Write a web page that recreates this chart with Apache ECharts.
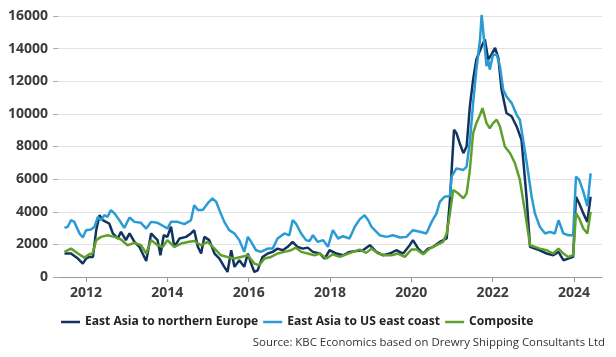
<!DOCTYPE html>
<html><head><meta charset="utf-8">
<script src="https://cdn.jsdelivr.net/npm/echarts@6/dist/echarts.min.js"></script>
<style>html,body{margin:0;padding:0;background:#fff}#c{width:616px;height:357px}</style>
</head><body><div id="c"></div>
<script>
// Years shown as axis labels
const yearTicks = [2012, 2014, 2016, 2018, 2020, 2022, 2024];
const seriesNames = ['East Asia to northern Europe', 'East Asia to US east coast', 'Composite'];

// East Asia to northern Europe (decimal year, USD)
const euX = [2011.47,2011.63,2011.8,2011.92,2012.0,2012.08,2012.17,2012.25,2012.33,2012.41,2012.49,2012.57,2012.66,2012.78,2012.86,2012.98,2013.07,2013.19,2013.31,2013.48,2013.6,2013.68,2013.76,2013.83,2013.91,2014.0,2014.09,2014.17,2014.3,2014.46,2014.58,2014.66,2014.75,2014.83,2014.91,2015.03,2015.16,2015.28,2015.4,2015.48,2015.57,2015.65,2015.77,2015.89,2015.98,2016.06,2016.14,2016.22,2016.34,2016.47,2016.59,2016.71,2016.84,2016.96,2017.08,2017.2,2017.33,2017.45,2017.58,2017.75,2017.87,2017.99,2018.16,2018.32,2018.48,2018.65,2018.81,2018.98,2019.14,2019.31,2019.47,2019.63,2019.8,2019.96,2020.04,2020.17,2020.29,2020.41,2020.54,2020.7,2020.87,2020.95,2020.99,2021.05,2021.11,2021.19,2021.28,2021.36,2021.44,2021.52,2021.6,2021.73,2021.81,2021.89,2021.97,2022.06,2022.14,2022.22,2022.34,2022.47,2022.59,2022.71,2022.84,2022.92,2023.04,2023.16,2023.33,2023.49,2023.62,2023.74,2023.86,2023.98,2024.05,2024.13,2024.23,2024.33,2024.41];
const euY = [1440,1440,1130,820,1130,1230,1230,2870,3790,3480,3380,3280,2670,2360,2770,2260,2670,2150,1850,980,2670,2460,2260,1330,2560,2460,3080,1850,2360,2460,2670,2870,1850,1440,2460,2260,1440,1130,620,310,1640,620,1030,620,1440,820,310,410,1230,1440,1540,1740,1640,1850,2150,1850,1740,1800,1540,1440,1130,1640,1440,1330,1540,1600,1640,1950,1540,1330,1440,1640,1440,1950,2260,1740,1440,1740,1850,2150,2360,4720,6460,9020,8820,8200,7590,8000,10460,12100,13330,14150,14560,13330,13630,14040,13430,11480,10050,9840,9230,8410,4720,1850,1740,1640,1440,1330,1540,1030,1130,1230,4920,4510,3900,3380,4920];

// East Asia to US east coast
const usX = [2011.47,2011.55,2011.63,2011.71,2011.84,2011.92,2012.0,2012.12,2012.21,2012.29,2012.37,2012.45,2012.53,2012.61,2012.7,2012.82,2012.94,2013.07,2013.19,2013.35,2013.48,2013.6,2013.76,2013.93,2014.0,2014.09,2014.25,2014.42,2014.58,2014.66,2014.75,2014.87,2014.99,2015.11,2015.2,2015.28,2015.4,2015.52,2015.65,2015.77,2015.89,2015.98,2016.06,2016.18,2016.3,2016.47,2016.59,2016.71,2016.88,2017.0,2017.08,2017.16,2017.29,2017.41,2017.5,2017.58,2017.7,2017.83,2017.95,2018.07,2018.2,2018.32,2018.48,2018.61,2018.73,2018.85,2018.94,2019.02,2019.1,2019.22,2019.39,2019.55,2019.72,2019.88,2020.04,2020.21,2020.37,2020.5,2020.62,2020.7,2020.82,2020.95,2020.99,2021.11,2021.28,2021.36,2021.44,2021.52,2021.6,2021.69,2021.73,2021.78,2021.85,2021.89,2021.93,2022.01,2022.1,2022.18,2022.26,2022.34,2022.47,2022.59,2022.67,2022.75,2022.84,2022.96,2023.04,2023.16,2023.29,2023.41,2023.53,2023.62,2023.74,2023.86,2023.98,2024.05,2024.13,2024.23,2024.33,2024.41];
const usY = [3010,3080,3480,3380,2670,2420,2870,2910,3080,3690,3480,3790,3690,4100,3900,3480,3010,3650,3380,3320,2970,3380,3320,3080,2970,3380,3380,3240,3480,4400,4100,4100,4510,4820,4610,4100,3380,2870,2670,2260,1540,2460,2150,1640,1540,1740,1740,2360,2670,2560,3480,3280,2670,2260,2210,2560,2150,2260,1850,2870,2360,2500,2360,3080,3530,3790,3480,3080,2870,2560,2460,2560,2420,2460,2870,2770,2670,3380,3900,4610,4920,4960,6150,6660,6560,6770,8300,10660,12710,14560,16090,14760,12920,13330,12710,13630,13630,12920,11480,11070,10660,9940,9640,8410,6970,4920,3900,3080,2670,2770,2670,3480,2670,2560,2560,6150,5950,5230,4350,6360];

// Composite
const coX = [2011.47,2011.63,2011.8,2011.96,2012.08,2012.16,2012.25,2012.37,2012.53,2012.7,2012.86,2013.02,2013.19,2013.35,2013.48,2013.6,2013.76,2013.89,2014.0,2014.17,2014.34,2014.5,2014.66,2014.83,2014.99,2015.16,2015.32,2015.48,2015.65,2015.81,2015.98,2016.14,2016.26,2016.39,2016.55,2016.71,2016.88,2017.04,2017.16,2017.29,2017.45,2017.62,2017.75,2017.91,2018.07,2018.24,2018.4,2018.57,2018.73,2018.89,2019.02,2019.18,2019.35,2019.51,2019.67,2019.84,2020.0,2020.13,2020.29,2020.45,2020.62,2020.78,2020.87,2020.95,2021.03,2021.15,2021.28,2021.36,2021.44,2021.52,2021.6,2021.69,2021.75,2021.85,2021.93,2022.01,2022.1,2022.18,2022.3,2022.43,2022.55,2022.67,2022.79,2022.92,2023.04,2023.16,2023.33,2023.49,2023.62,2023.74,2023.86,2023.98,2024.05,2024.13,2024.23,2024.33,2024.41];
const coY = [1540,1740,1440,1190,1390,1440,2260,2460,2560,2460,2300,1950,2090,1950,1440,2260,1950,1850,2260,1850,2050,2150,2210,1950,2150,1740,1330,1230,1130,1230,1330,820,720,1130,1230,1440,1540,1640,1800,1540,1440,1330,1440,1130,1390,1230,1390,1540,1680,1480,1740,1440,1330,1330,1440,1230,1680,1680,1390,1740,1950,2150,2670,3900,5330,5130,4820,5130,6560,8820,9430,9940,10350,9430,9120,9430,9640,9230,8000,7590,6970,5950,4100,1950,1850,1740,1640,1440,1740,1440,1230,1330,3900,3590,2970,2670,4000];

const zip = (xs, ys) => xs.map((x, i) => [x, ys[i]]);
const colors = ['#12325f', '#2a9bd3', '#5f9f2b'];
const axisFont = { fontFamily: 'Open Sans', fontWeight: 'bold', fontSize: 14, color: '#3c3c3c' };

const chart = echarts.init(document.getElementById('c'), null, { renderer: 'canvas' });
chart.setOption({
  animation: false,
  color: colors,
  grid: { left: 58, right: 14, top: 16, bottom: 80, containLabel: false },
  legend: {
    top: 311, left: 56,
    itemWidth: 19, itemHeight: 2.5, itemGap: 5,
    icon: 'rect',
    textStyle: { fontFamily: 'Open Sans', fontWeight: 'bold', fontSize: 12.1, color: '#222' },
    data: seriesNames
  },
  graphic: [{
    type: 'text', right: 11, top: 337,
    style: { text: 'Source: KBC Economics based on Drewry Shipping Consultants Ltd', fontFamily: 'Open Sans', fontSize: 11.4, fill: '#333' }
  }],
  xAxis: {
    type: 'value', min: 2011.31, max: 2024.69,
    splitLine: { show: false },
    axisLine: { show: true, lineStyle: { color: '#9a9a9a', width: 1 } },
    axisTick: { show: true, length: 5, lineStyle: { color: '#9a9a9a' }, customValues: yearTicks },
    axisLabel: Object.assign({ margin: 9, customValues: yearTicks, formatter: v => String(Math.round(v)) }, axisFont)
  },
  yAxis: {
    type: 'value', min: 0, max: 16000, interval: 2000,
    axisLine: { show: false },
    axisTick: { show: true, length: 5, lineStyle: { color: '#aaaaaa' } },
    splitLine: { show: true, lineStyle: { color: '#e3e3e3', width: 1 } },
    axisLabel: Object.assign({ margin: 10, formatter: v => String(v) }, axisFont)
  },
  series: [
    { name: seriesNames[0], type: 'line', data: zip(euX, euY), showSymbol: false, lineStyle: { width: 2.5 } },
    { name: seriesNames[1], type: 'line', data: zip(usX, usY), showSymbol: false, lineStyle: { width: 2.5 } },
    { name: seriesNames[2], type: 'line', data: zip(coX, coY), showSymbol: false, lineStyle: { width: 2.5 } }
  ]
});
</script></body></html>
